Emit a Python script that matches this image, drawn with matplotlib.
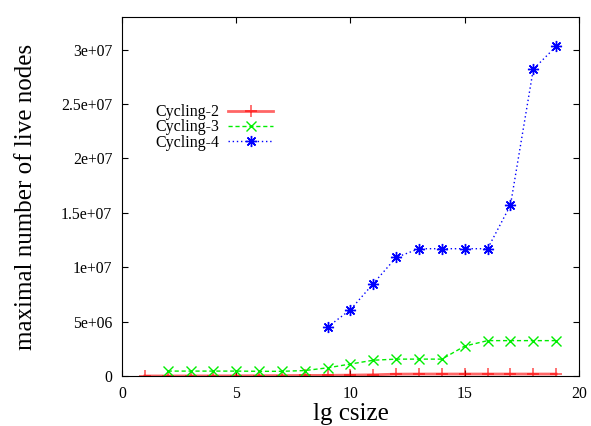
import numpy as np
import matplotlib
matplotlib.use("Agg")
from matplotlib import pyplot as plt
from matplotlib.ticker import FormatStrFormatter

# lg csize vs maximal number of live nodes
x2 = [1, 2, 3, 4, 5, 6, 7, 8, 9, 10, 11, 12, 13, 14, 15, 16, 17, 18, 19]
y2 = [1e3, 2e3, 4e3, 8e3, 1.5e4, 2.5e4, 3.5e4, 5e4, 6e4, 8e4, 1.1e5, 1.7e5,
      1.8e5, 1.8e5, 1.8e5, 1.8e5, 1.8e5, 1.8e5, 1.8e5]
x3 = [2, 3, 4, 5, 6, 7, 8, 9, 10, 11, 12, 13, 14, 15, 16, 17, 18, 19]
y3 = [4.5e5, 4.5e5, 4.5e5, 4.5e5, 4.3e5, 4.3e5, 5.0e5, 7.5e5, 1.1e6, 1.45e6,
      1.55e6, 1.55e6, 1.55e6, 2.75e6, 3.25e6, 3.25e6, 3.25e6, 3.25e6]
x4 = [9, 10, 11, 12, 13, 14, 15, 16, 17, 18, 19]
y4 = [4.5e6, 6.1e6, 8.5e6, 1.09e7, 1.17e7, 1.17e7, 1.17e7, 1.17e7, 1.57e7,
      2.82e7, 3.03e7]

plt.rcParams["font.family"] = ["Liberation Serif", "DejaVu Serif"]

fig = plt.figure(figsize=(5.91, 4.26), dpi=100)
ax = fig.add_axes([0.2064, 0.1174, 0.7733, 0.8427])

ax.plot(x2, y2, color="#ff0000", lw=2.0, alpha=0.6, marker="+", ms=8.5, mew=1.3,
        label="Cycling-2")
ax.plot(x3, y3, color="#00ee00", lw=1.0, ls=(0, (3, 2)), marker="x", ms=7, mew=1.0,
        label="Cycling-3")
ax.plot(x4, y4, color="#0000ff", lw=1.0, ls=(0, (1, 2)), marker=(8, 2, 0), ms=8, mew=1.0,
        label="Cycling-4")

ax.set_xlim(0, 20)
ax.set_ylim(0, 3.3e7)
ax.set_xticks([0, 5, 10, 15, 20])
ax.set_yticks(np.arange(0, 3.01e7, 5e6))
ax.yaxis.set_major_formatter(FormatStrFormatter("%g"))
ax.tick_params(direction="in", top=True, right=True, length=4, labelsize=11.3, pad=7)
ax.set_xlabel("lg csize", fontsize=18, labelpad=1)
ax.set_ylabel("maximal number of live nodes", fontsize=18, labelpad=17)

ax.legend(loc="upper left", bbox_to_anchor=(0.058, 0.775), frameon=False,
          markerfirst=False, fontsize=11.5, handlelength=2.8, labelspacing=-0.05,
          handletextpad=0.6, borderaxespad=0)

fig.savefig("out.png")
